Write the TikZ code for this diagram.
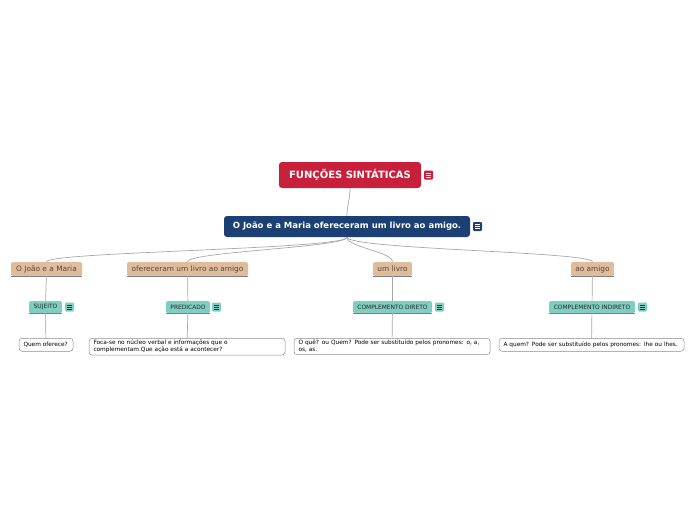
\documentclass[tikz,border=0pt]{standalone}
\usepackage{fontspec}
\setmainfont{DejaVu Sans}
\definecolor{rootred}{HTML}{C8203A}
\definecolor{mainblue}{HTML}{1C4073}
\definecolor{tanfill}{HTML}{DFBC9C}
\definecolor{tantext}{HTML}{5A4636}
\definecolor{tealfill}{HTML}{7FCEC1}
\definecolor{linkgray}{HTML}{A8A8A8}
\tikzset{
  root/.style={rounded corners=3pt, fill=rootred, text=white, inner sep=0pt,
    font=\fontsize{10}{12}\selectfont\bfseries, minimum width=142pt, minimum height=26pt},
  sentence/.style={rounded corners=3pt, fill=mainblue, text=white, inner sep=0pt,
    font=\fontsize{8.5}{10}\selectfont\bfseries, minimum height=21pt},
  part/.style={rounded corners=1.5pt, fill=tanfill, text=tantext, inner sep=0pt,
    font=\fontsize{7.4}{9}\selectfont, minimum height=14pt},
  func/.style={rounded corners=1.5pt, fill=tealfill, text=black!85, inner sep=0pt,
    font=\fontsize{5.9}{7}\selectfont, minimum height=12pt},
  note/.style={rounded corners=3pt, draw=black!45, line width=0.5pt, fill=white,
    inner xsep=4.5pt, inner ysep=2pt, align=left, anchor=north,
    font=\fontsize{5.8}{7}\selectfont, minimum height=13pt},
  icon/.style={rounded corners=1.2pt, minimum size=9pt, inner sep=0pt,
    path picture={\foreach \k in {-1.8,0,1.8}
      \draw[#1, line width=0.55pt] ([xshift=-2.4pt,yshift=\k pt]path picture bounding box.center) -- ++(4.8pt,0);}},
  link/.style={draw=linkgray, line width=0.7pt},
  underline/.style={draw=black!50, line width=0.5pt}
}
\begin{document}
\begin{tikzpicture}[x=1pt,y=-1pt]
\useasboundingbox (0,0) rectangle (696,520);
% topo
\node[root] (root) at (350,175) {FUNÇÕES SINTÁTICAS};
\node[icon=white, fill=rootred] (rooticon) at (428.5,175) {};
\node[sentence, minimum width=246pt] (frase) at (347,226.5) {O João e a Maria ofereceram um livro ao amigo.};
\node[icon=white, fill=mainblue] (fraseicon) at (477.5,226.5) {};
% partes da frase
\node[part, minimum width=71pt] (joao) at (46.5,269) {O João e a Maria};
\node[part, minimum width=121pt] (ofer) at (187.5,269) {ofereceram um livro ao amigo};
\node[part, minimum width=39pt] (livro) at (392.5,269) {um livro};
\node[part, minimum width=43pt] (amigo) at (592.5,269) {ao amigo};
% funcoes
\node[func, minimum width=33pt] (suj) at (45.5,307) {SUJEITO};
\node[icon=black!80, fill=tealfill] (sujicon) at (69.5,307) {};
\node[func, minimum width=44pt] (pred) at (188,307) {PREDICADO};
\node[icon=black!80, fill=tealfill] (predicon) at (216.5,307) {};
\node[func, minimum width=79pt] (cd) at (392.5,307) {COMPLEMENTO DIRETO};
\node[icon=black!80, fill=tealfill] (cdicon) at (439.5,307) {};
\node[func, minimum width=86pt] (ci) at (592,307) {COMPLEMENTO INDIRETO};
\node[icon=black!80, fill=tealfill] (ciicon) at (642.5,307) {};
% notas
\node[note, text width=45pt] (nsuj) at (46,338) {Quem oferece?};
\node[note, text width=187pt] (npred) at (187,338) {Foca-se no núcleo verbal e informações que o\\complementam.Que ação está a acontecer?};
\node[note, text width=187pt] (ncd) at (392,338) {O quê? ou Quem? Pode ser substituído pelos pronomes: o, a,\\os, as.};
\node[note, text width=176pt] (nci) at (591.5,338) {A quem? Pode ser substituído pelos pronomes: lhe ou lhes.};
\foreach \n in {joao,ofer,livro,amigo,suj,pred,cd,ci}
  \draw[underline] (\n.south west) -- (\n.south east);
% ligacoes
\draw[link] (root.south) .. controls +(0,12) and +(0,-12) .. (frase.north);
\draw[link] (frase.south) .. controls +(0,12) and +(0,-10) .. (joao.north);
\draw[link] (frase.south) .. controls +(0,10) and +(0,-10) .. (ofer.north);
\draw[link] (frase.south) .. controls +(0,10) and +(0,-10) .. (livro.north);
\draw[link] (frase.south) .. controls +(0,12) and +(0,-10) .. (amigo.north);
\draw[link] (joao) to (suj) to (nsuj);
\draw[link] (ofer) to (pred) to (npred);
\draw[link] (livro) to (cd) to (ncd);
\draw[link] (amigo) to (ci) to (nci);
\end{tikzpicture}
\end{document}
